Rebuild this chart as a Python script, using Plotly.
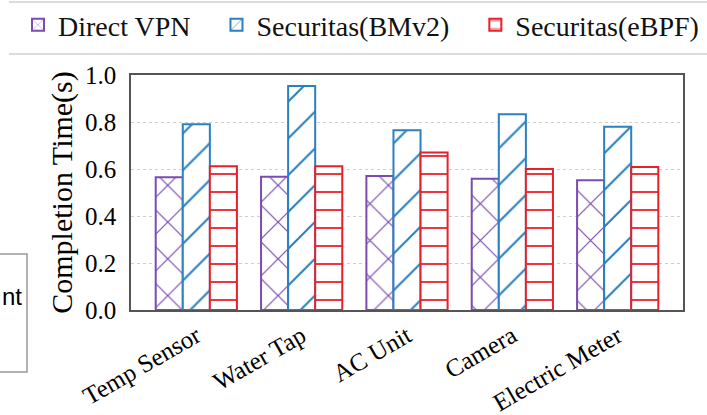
import plotly.graph_objects as go

categories = ["Temp Sensor", "Water Tap", "AC Unit", "Camera", "Electric Meter"]
direct_vpn = [0.565, 0.567, 0.570, 0.559, 0.552]
securitas_bmv2 = [0.790, 0.953, 0.765, 0.833, 0.780]
securitas_ebpf = [0.612, 0.612, 0.670, 0.600, 0.608]

series_names = ["Direct VPN", "Securitas(BMv2)", "Securitas(eBPF)"]
legend_pad = ["\u00a0\u00a0\u00a0", "\u00a0\u00a0\u00a0", ""]
colors = ["#7b4cb0", "#2a80c0", "#e8202a"]
shapes = ["x", "/", "-"]
sizes = [26, 26, 18]
solids = [0.09, 0.08, 0.1]

W, H = 707, 415
L, R, T, B = 131, 24, 75, 105
pw, ph = W - L - R, H - T - B

def px(x):
    return (x - L) / pw

def py(y):
    return (H - B - y) / ph

fig = go.Figure()
for name, pad, vals, c, s, sz, so in zip(series_names, legend_pad,
                                          [direct_vpn, securitas_bmv2, securitas_ebpf],
                                          colors, shapes, sizes, solids):
    fig.add_trace(go.Bar(
        x=categories, y=vals, name=name + pad,
        marker=dict(color="white", line=dict(color=c, width=2),
                    pattern=dict(shape=s, fgcolor=c, bgcolor="white", size=sz, solidity=so,
                                 fgopacity=1)),
    ))

serif = "Liberation Serif, Times New Roman, serif"
fig.update_layout(
    width=W, height=H,
    margin=dict(l=L, r=R, t=T, b=B, autoexpand=False),
    paper_bgcolor="white", plot_bgcolor="white",
    barmode="group", bargap=0.229, bargroupgap=0,
    font=dict(family=serif, color="black"),
    legend=dict(orientation="h", x=px(18), xanchor="left", y=py(25), yanchor="middle",
                font=dict(family=serif, size=28, color="#111"), bgcolor="rgba(0,0,0,0)",
                traceorder="normal"),
    showlegend=True,
)
fig.update_xaxes(range=[-0.62, 4.62], showline=True, mirror=True, linecolor="#555", linewidth=1.5,
                 tickangle=-30, tickfont=dict(family=serif, size=25, color="black"), ticks="",
                 showgrid=False, automargin=False)
fig.update_yaxes(range=[0, 1.0], dtick=0.2, tickformat=".1f", showline=True, mirror=True,
                 linecolor="#555", linewidth=1.5, ticks="", ticklabelstandoff=8,
                 tickfont=dict(family=serif, size=25, color="black"), automargin=False,
                 showgrid=True, gridcolor="#cfcfcf", griddash="dot", gridwidth=1,
                 title=dict(text="Completion Time(s)", font=dict(family=serif, size=30, color="black"),
                            standoff=4))

# legend frame lines (top & bottom)
for yy in (2, 54):
    fig.add_shape(type="line", xref="paper", yref="paper", x0=px(9), x1=px(710), y0=py(yy), y1=py(yy),
                  line=dict(color="#dcdcdc", width=2))
# partial box from neighbouring figure
fig.add_shape(type="rect", xref="paper", yref="paper", x0=px(-5), x1=px(27), y0=py(372), y1=py(254),
              line=dict(color="#999999", width=1.5), fillcolor="rgba(0,0,0,0)")
fig.add_annotation(text="nt", xref="paper", yref="paper", x=px(24), y=py(296), xanchor="right",
                   yanchor="middle", showarrow=False,
                   font=dict(family="Liberation Sans, Arial, sans-serif", size=24, color="black"))

fig.write_html("out.html", config={"displayModeBar": False},
               post_script="document.body.style.margin='0';document.body.style.overflow='hidden';")
